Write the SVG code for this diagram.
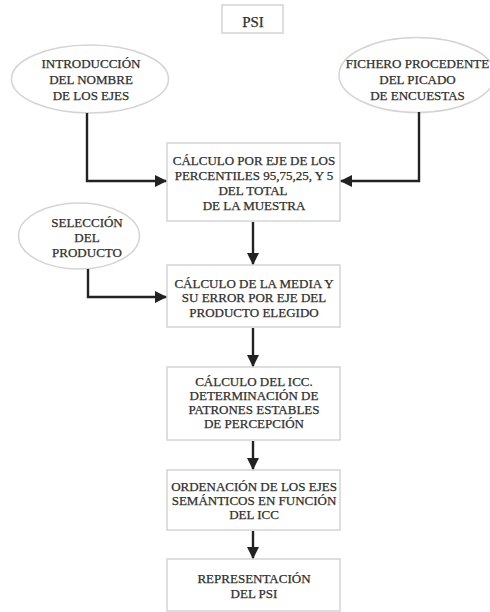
<svg xmlns="http://www.w3.org/2000/svg" width="490" height="612" viewBox="0 0 490 612">
  <style>
    .box { fill: #ffffff; stroke: #d4d4d4; stroke-width: 1.5; }
    .oval { fill: #ffffff; stroke: #d4d4d4; stroke-width: 1.5; }
    .label { font-family: "Liberation Serif", "Times New Roman", serif; font-size: 13px; fill: #2e2e2e; stroke: #2e2e2e; stroke-width: 0.25; text-anchor: middle; }
    .title { font-size: 15px; }
    .link { fill: none; stroke: #222222; stroke-width: 2.4; marker-end: url(#head); }
  </style>
  <defs>
    <marker id="head" viewBox="0 0 12 12" refX="11" refY="6" markerWidth="12" markerHeight="12" markerUnits="userSpaceOnUse" orient="auto">
      <path d="M0,0 L12,6 L0,12 Z" fill="#222222"/>
    </marker>
  </defs>
  <rect width="490" height="612" fill="#ffffff"/>

  <g id="psi">
    <rect class="box" x="222" y="5" width="61" height="28"/>
    <text class="label title" x="253" y="27">PSI</text>
  </g>

  <g id="intro-ejes">
    <ellipse class="oval" cx="90" cy="79" rx="78.5" ry="34"/>
    <text class="label" x="91" y="67.5">INTRODUCCIÓN</text>
    <text class="label" x="91" y="83.5">DEL NOMBRE</text>
    <text class="label" x="91" y="99.5">DE LOS EJES</text>
  </g>

  <g id="fichero">
    <ellipse class="oval" cx="417" cy="75" rx="78" ry="37.5"/>
    <text class="label" x="417.5" y="67.5">FICHERO PROCEDENTE</text>
    <text class="label" x="417.5" y="84">DEL PICADO</text>
    <text class="label" x="417.5" y="99.5">DE ENCUESTAS</text>
  </g>

  <g id="calculo-percentiles">
    <rect class="box" x="167" y="143" width="173" height="78"/>
    <text class="label" x="254" y="165">CÁLCULO POR EJE DE LOS</text>
    <text class="label" x="254" y="179.5">PERCENTILES 95,75,25, Y 5</text>
    <text class="label" x="253" y="194.5">DEL TOTAL</text>
    <text class="label" x="254" y="209.5">DE LA MUESTRA</text>
  </g>

  <g id="seleccion">
    <ellipse class="oval" cx="79" cy="236" rx="60.5" ry="33"/>
    <text class="label" x="87" y="226.5">SELECCIÓN</text>
    <text class="label" x="87" y="241.5">DEL</text>
    <text class="label" x="87" y="256.5">PRODUCTO</text>
  </g>

  <g id="calculo-media">
    <rect class="box" x="167" y="265" width="173" height="62"/>
    <text class="label" x="254" y="287.5">CÁLCULO DE LA MEDIA Y</text>
    <text class="label" x="254" y="302">SU ERROR POR EJE DEL</text>
    <text class="label" x="254" y="316.5">PRODUCTO ELEGIDO</text>
  </g>

  <g id="calculo-icc">
    <rect class="box" x="167" y="367" width="173" height="73"/>
    <text class="label" x="254" y="386">CÁLCULO DEL ICC.</text>
    <text class="label" x="254" y="400">DETERMINACIÓN DE</text>
    <text class="label" x="254" y="414">PATRONES ESTABLES</text>
    <text class="label" x="254" y="428">DE PERCEPCIÓN</text>
  </g>

  <g id="ordenacion">
    <rect class="box" x="167" y="470" width="173" height="60"/>
    <text class="label" x="254" y="490.5">ORDENACIÓN DE LOS EJES</text>
    <text class="label" x="254" y="504.5">SEMÁNTICOS EN FUNCIÓN</text>
    <text class="label" x="254" y="518.5">DEL ICC</text>
  </g>

  <g id="representacion">
    <rect class="box" x="167" y="559" width="173" height="52"/>
    <text class="label" x="254" y="582.5">REPRESENTACIÓN</text>
    <text class="label" x="254" y="597.5">DEL PSI</text>
  </g>

  <g id="connectors">
    <path class="link" d="M87,113 V181 H166"/>
    <path class="link" d="M419,112 V181 H341"/>
    <path class="link" d="M88,269 V297 H166"/>
    <path class="link" d="M253,222 V264"/>
    <path class="link" d="M253,328 V366"/>
    <path class="link" d="M253,441 V469"/>
    <path class="link" d="M253,531 V558"/>
  </g>
</svg>
